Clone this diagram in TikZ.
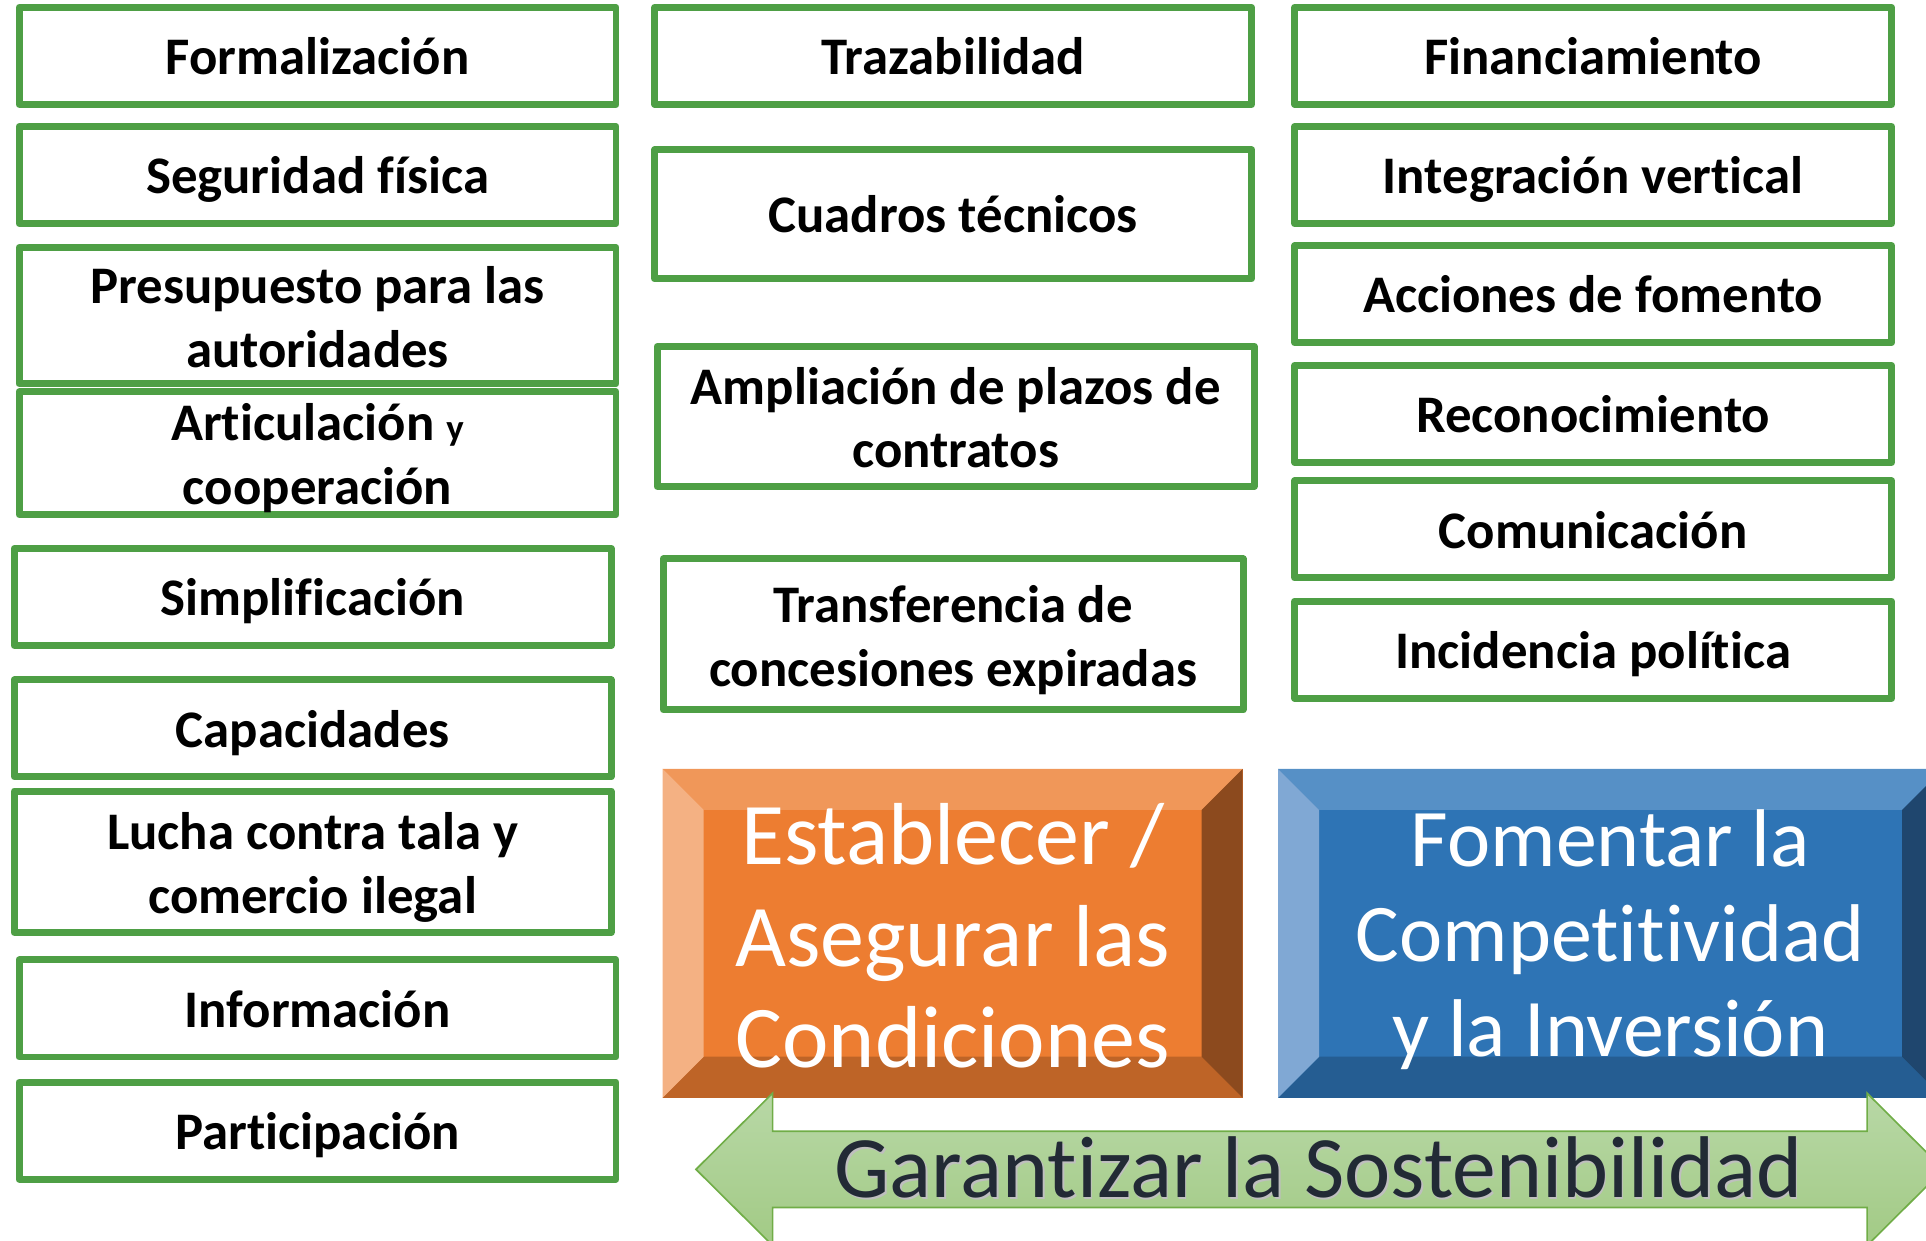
\documentclass[tikz,border=0pt]{standalone}
\usepackage{fontspec}
\setmainfont{Carlito}[Ligatures=NoCommon]
\definecolor{verdecaja}{RGB}{78,159,69}
\definecolor{naranjaC}{RGB}{237,125,49}
\definecolor{naranjaT}{RGB}{240,151,89}
\definecolor{naranjaL}{RGB}{244,177,131}
\definecolor{naranjaR}{RGB}{140,74,30}
\definecolor{naranjaB}{RGB}{190,100,39}
\definecolor{azulC}{RGB}{46,116,181}
\definecolor{azulT}{RGB}{86,144,198}
\definecolor{azulL}{RGB}{128,168,212}
\definecolor{azulR}{RGB}{31,70,110}
\definecolor{azulB}{RGB}{37,93,146}
\definecolor{flechaA}{RGB}{184,216,166}
\definecolor{flechaB}{RGB}{162,202,133}
\definecolor{flechaborde}{RGB}{112,173,71}
\definecolor{textoflecha}{RGB}{34,42,53}
\newcommand{\puntal}{\vrule height 24.7pt depth 6.5pt width 0pt}
% caja biselada: esquina sup. izq., esquina inf. der., prefijo de color
\newcommand{\bisel}[5]{%
\fill[#5C] (#1,#2) rectangle (#3,#4);
\fill[#5T] (#1,#2) -- (#3,#2) -- ({#3-33.4},{#2+33.4}) -- ({#1+33.4},{#2+33.4}) -- cycle;
\fill[#5B] (#1,#4) -- (#3,#4) -- ({#3-33.4},{#4-33.4}) -- ({#1+33.4},{#4-33.4}) -- cycle;
\fill[#5L] (#1,#2) -- ({#1+33.4},{#2+33.4}) -- ({#1+33.4},{#4-33.4}) -- (#1,#4) -- cycle;
\fill[#5R] (#3,#2) -- ({#3-33.4},{#2+33.4}) -- ({#3-33.4},{#4-33.4}) -- (#3,#4) -- cycle;}

\begin{document}
\begin{tikzpicture}[x=0.6pt,y=-0.6pt,
  caja/.style={draw=verdecaja,line width=3.4pt,line join=round,fill=white,
    minimum width=291.6pt,minimum height=#1*0.6pt,inner sep=0pt,align=center,
    font=\bfseries\fontsize{25.8}{31.2}\selectfont,
    execute at begin node=\puntal,execute at end node=\puntal},
  caja/.default=79,
  doble/.style={caja=#1,execute at begin node={},execute at end node={},
    text height=50.4pt,text depth=0pt},
  textobisel/.style={text=white,align=center,inner sep=0pt}]
\useasboundingbox (0,0) rectangle (1568,1010);
\clip (0,0) rectangle (1568,1010);
\node[caja] (form) at (258.5,45.5) {Formalización};
\node[caja] (segu) at (258.5,142.5) {Seguridad física};
\node[doble=111] (presu) at (258.5,257) {Presupuesto para las\\autoridades};
\node[doble=100] (artic) at (258.5,369) {Articulación {\fontsize{18}{20}\selectfont y}\\cooperación};
\node[caja] (simpl) at (254.5,486) {Simplificación};
\node[caja] (capac) at (254.5,593) {Capacidades};
\node[doble=115] (lucha) at (254.5,701.5) {Lucha contra tala y\\comercio ilegal};
\node[caja] (infor) at (258.5,821) {Información};
\node[caja] (parti) at (258.5,920.5) {Participación};
\node[caja] (traza) at (776,45.5) {Trazabilidad};
\node[caja=105] (cuadros) at (776,174.5) {Cuadros técnicos};
\node[doble=114] (ampli) at (778,339) {Ampliación de plazos de\\contratos};
\node[doble=123,minimum width=283.2pt] (transf) at (776,516.5) {Transferencia de\\concesiones expiradas};
\foreach \n/\y/\t in {finan/45.5/Financiamiento,integ/142.5/Integración vertical,
  acciones/239.5/Acciones de fomento,recon/337/Reconocimiento,
  comun/431/Comunicación,incid/529/Incidencia política}
  \node[caja] (\n) at (1297,\y) {\t};
\bisel{539.5}{626}{1011.7}{893.7}{naranja}
\bisel{1040.5}{626}{1582}{893.7}{azul}
\node[textobisel,font=\fontsize{43}{49.5}\selectfont] (establecer) at (775.6,762) {Establecer /\\Asegurar las\\Condiciones};
\node[textobisel,font=\fontsize{40}{46.5}\selectfont] (fomentar) at (1311,765) {Fomentar la\\Competitividad\\y la Inversión};
\draw[flechaborde,line width=0.8pt,top color=flechaA,bottom color=flechaB]
  (566.6,952) -- (629,890) -- (629,921) -- (1520,921) -- (1520,890) -- (1582.4,952)
  -- (1520,1014) -- (1520,983) -- (629,983) -- (629,1014) -- cycle;
\node[anchor=base,text=black!25,font=\fontsize{42.8}{50}\selectfont,inner sep=0pt] at (1074.8,976.3) {Garantizar la Sostenibilidad};
\node[anchor=base,text=textoflecha,font=\fontsize{42.8}{50}\selectfont,inner sep=0pt] (garantizar) at (1073.5,975) {Garantizar la Sostenibilidad};
\end{tikzpicture}
\end{document}
